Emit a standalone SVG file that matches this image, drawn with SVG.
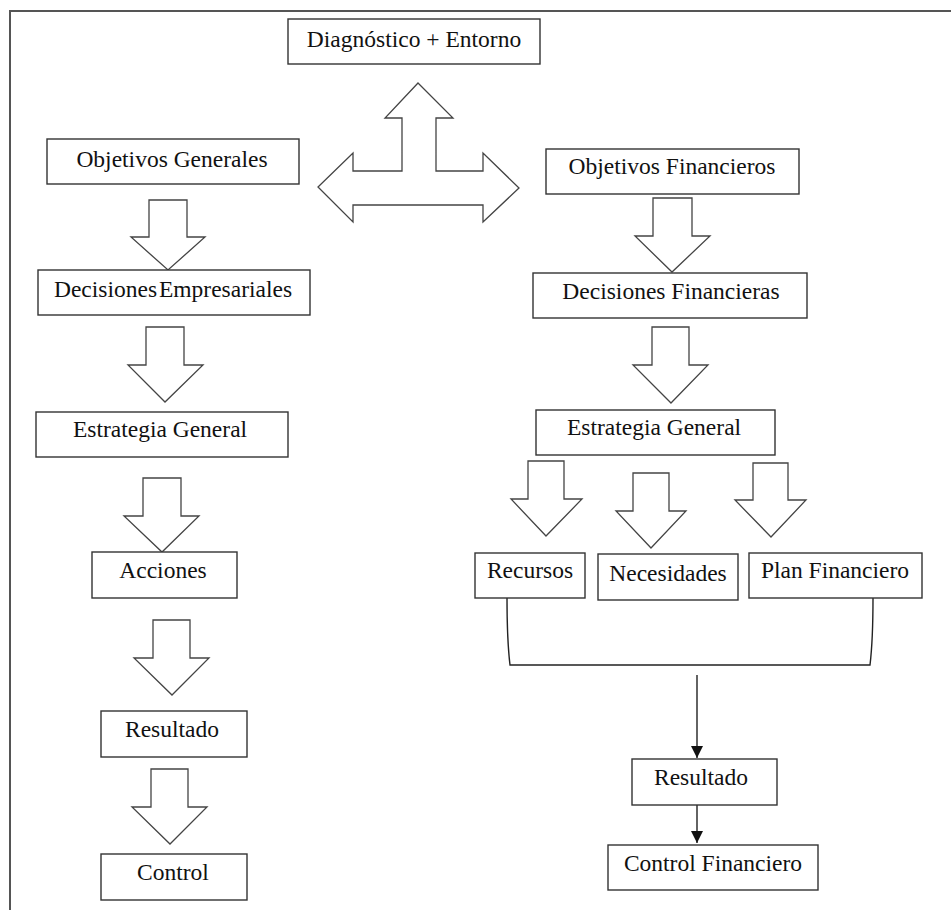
<svg xmlns="http://www.w3.org/2000/svg" width="951" height="910" viewBox="0 0 951 910">
<defs>
<style>
.box{fill:#fff;stroke:#333;stroke-width:1.4}
.blk{fill:#fff;stroke:#444;stroke-width:1.3;stroke-linejoin:miter}
text{font-family:'Liberation Serif','DejaVu Serif','Times New Roman',serif;font-size:23.5px;fill:#111;text-anchor:middle}
.ln{fill:none;stroke:#222;stroke-width:1.4}
.frame{fill:none;stroke:#555;stroke-width:2}
</style>
<marker id="ah" viewBox="0 0 12 12" refX="12" refY="6" markerWidth="12" markerHeight="12" markerUnits="userSpaceOnUse" orient="auto">
<path d="M0,0 L12,6 L0,12 Z" fill="#111"/>
</marker>
</defs>
<rect width="951" height="910" fill="#fff"/>
<path class="frame" d="M951,11 H10 V910"/>

<g id="connectors">
<polygon class="blk" points="418,83 453,118 436,118 436,171 483,171 483,153 519,188 483,222 483,205 353,205 353,222 318,187 353,153 353,171 402,171 402,118 385,118"/>
<polygon class="blk" points="149,200 187,200 187,237 205,237 168,270 131,237 149,237"/>
<polygon class="blk" points="146,327 184,327 184,365 203,365 165,402 128,365 146,365"/>
<polygon class="blk" points="143,478 181,478 181,516 199,516 162,552 124,516 143,516"/>
<polygon class="blk" points="153,620 190,620 190,658 209,658 172,695 134,658 153,658"/>
<polygon class="blk" points="151,769 188,769 188,807 207,807 170,844 132,807 151,807"/>
<polygon class="blk" points="653,198 692,198 692,236 710,236 672,272 635,236 653,236"/>
<polygon class="blk" points="652,327 689,327 689,365 708,365 671,403 633,365 652,365"/>
<polygon class="blk" points="528,461 564,461 564,499 582,499 546,536 511,499 528,499"/>
<polygon class="blk" points="633,473 669,473 669,511 686,511 651,548 616,511 633,511"/>
<polygon class="blk" points="753,463 788,463 788,500 806,500 771,537 735,500 753,500"/>
<path class="ln" d="M507,598 Q507,640 510,665 H870 Q873,640 873,598"/>
<line class="ln" x1="697" y1="675" x2="697" y2="758" marker-end="url(#ah)"/>
<line class="ln" x1="697" y1="805" x2="697" y2="843" marker-end="url(#ah)"/>
</g>

<g id="diag"><rect class="box" x="288" y="19" width="252" height="45"/><text x="414" y="47">Diagnóstico + Entorno</text></g>
<g id="objgen"><rect class="box" x="47" y="139" width="252" height="45"/><text x="172" y="167">Objetivos Generales</text></g>
<g id="decemp"><rect class="box" x="38" y="270" width="272" height="45"/><text x="173" y="297" word-spacing="-4">Decisiones Empresariales</text></g>
<g id="estgen1"><rect class="box" x="36" y="412" width="252" height="45"/><text x="160" y="437">Estrategia General</text></g>
<g id="acciones"><rect class="box" x="92" y="552" width="145" height="46"/><text x="163" y="578">Acciones</text></g>
<g id="resultado1"><rect class="box" x="101" y="711" width="146" height="46"/><text x="172" y="737">Resultado</text></g>
<g id="control"><rect class="box" x="101" y="854" width="146" height="46"/><text x="173" y="880">Control</text></g>

<g id="objfin"><rect class="box" x="546" y="149" width="253" height="45"/><text x="672" y="174">Objetivos Financieros</text></g>
<g id="decfin"><rect class="box" x="533" y="273" width="274" height="45"/><text x="671" y="299">Decisiones Financieras</text></g>
<g id="estgen2"><rect class="box" x="536" y="410" width="239" height="45"/><text x="654" y="435">Estrategia General</text></g>
<g id="recursos"><rect class="box" x="475" y="553" width="110" height="45"/><text x="530" y="578">Recursos</text></g>
<g id="necesidades"><rect class="box" x="598" y="554" width="140" height="46"/><text x="668" y="581">Necesidades</text></g>
<g id="planfin"><rect class="box" x="749" y="553" width="173" height="45"/><text x="835" y="578">Plan Financiero</text></g>
<g id="resultado2"><rect class="box" x="632" y="759" width="145" height="46"/><text x="701" y="785">Resultado</text></g>
<g id="controlfin"><rect class="box" x="608" y="845" width="210" height="45"/><text x="713" y="871">Control Financiero</text></g>
</svg>
